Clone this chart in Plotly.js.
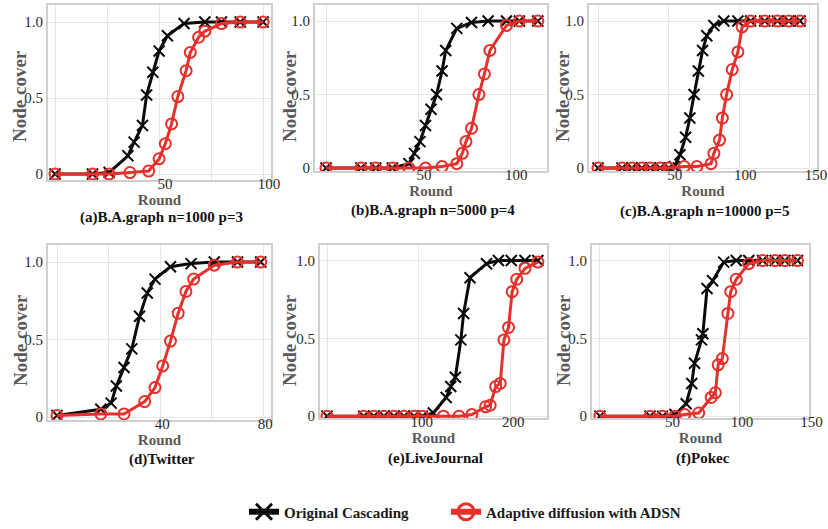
<!DOCTYPE html>
<html>
<head>
<meta charset="utf-8">
<script src="https://cdn.plot.ly/plotly-3.0.1.min.js"></script>
<style>html,body{margin:0;padding:0;background:#fff;}#chart{width:828px;height:529px;}</style>
</head>
<body>
<div id="chart"></div>
<script>
// ---------- DATA ----------
const seriesNames = ["Original Cascading", "Adaptive diffusion with ADSN"];
const captions = ["(a)B.A.graph n=1000 p=3", "(b)B.A.graph n=5000 p=4", "(c)B.A.graph n=10000 p=5",
                  "(d)Twitter", "(e)LiveJournal", "(f)Pokec"];
const xTitle = "Round";
const yTitle = "Node cover";

const roundsA_orig = [0, 18, 26, 35, 38, 42, 44, 47, 50, 54, 62, 72, 80, 89, 100];
const coverA_orig  = [0, 0, 0.01, 0.12, 0.21, 0.32, 0.52, 0.67, 0.81, 0.91, 0.99, 1, 1, 1, 1];
const roundsA_adsn = [0, 18, 26, 36, 45, 50, 53, 56, 59, 63, 65, 69, 72, 80, 89, 100];
const coverA_adsn  = [0, 0, 0, 0.01, 0.02, 0.1, 0.2, 0.33, 0.51, 0.68, 0.8, 0.9, 0.94, 0.99, 1, 1];

const roundsB_orig = [0, 19, 27, 36, 45, 48, 51, 54, 57, 60, 63, 65, 71, 79, 88, 98, 105, 115];
const coverB_orig  = [0, 0, 0, 0, 0.03, 0.1, 0.18, 0.29, 0.4, 0.5, 0.66, 0.8, 0.95, 0.99, 1, 1, 1, 1];
const roundsB_adsn = [0, 19, 27, 36, 45, 54, 63, 71, 74, 76, 79, 83, 86, 89, 98, 105, 115];
const coverB_adsn  = [0, 0, 0, 0, 0, 0, 0.01, 0.03, 0.1, 0.18, 0.27, 0.5, 0.64, 0.8, 0.97, 1, 1];

const roundsC_orig = [0, 17, 24, 31, 37, 44, 50, 54, 58, 62, 65, 68, 71, 74, 77, 82, 89, 99, 108, 118, 127, 135, 143];
const coverC_orig  = [0, 0, 0, 0, 0, 0, 0, 0.01, 0.09, 0.21, 0.34, 0.5, 0.66, 0.8, 0.9, 0.97, 1, 1, 1, 1, 1, 1, 1];
const roundsC_adsn = [0, 17, 24, 31, 37, 44, 50, 61, 70, 80, 82, 86, 88, 91, 95, 99, 102, 108, 118, 127, 135, 143];
const coverC_adsn  = [0, 0, 0, 0, 0, 0, 0, 0.01, 0.01, 0.03, 0.1, 0.19, 0.34, 0.5, 0.67, 0.79, 0.96, 1, 1, 1, 1, 1];

const roundsD_orig = [0, 17, 21, 23, 26, 29, 32, 35, 38, 44, 52, 61, 70, 79];
const coverD_orig  = [0.01, 0.05, 0.09, 0.2, 0.32, 0.44, 0.65, 0.8, 0.89, 0.97, 0.99, 1, 1, 1];
const roundsD_adsn = [0, 17, 26, 34, 38, 41, 44, 47, 50, 53, 61, 70, 79];
const coverD_adsn  = [0.01, 0.02, 0.02, 0.1, 0.19, 0.33, 0.49, 0.67, 0.81, 0.89, 0.98, 1, 1];

const roundsE_orig = [0, 40, 51, 62, 73, 84, 95, 104, 116, 130, 135, 140, 146, 149, 156, 174, 187, 201, 216, 230];
const coverE_orig  = [0, 0, 0, 0, 0, 0, 0, 0, 0.02, 0.12, 0.19, 0.25, 0.49, 0.66, 0.89, 0.98, 1, 1, 1, 1];
const roundsE_adsn = [0, 40, 51, 62, 73, 84, 95, 104, 127, 144, 158, 173, 178, 184, 189, 193, 198, 202, 207, 216, 230];
const coverE_adsn  = [0, 0, 0, 0, 0, 0, 0, 0, 0, 0, 0.01, 0.06, 0.07, 0.19, 0.21, 0.49, 0.57, 0.8, 0.88, 0.95, 0.99];

const roundsF_orig = [0, 36, 45, 54, 62, 66, 68, 73, 74, 77, 81, 89, 98, 107, 117, 126, 133, 142];
const coverF_orig  = [0, 0, 0, 0.01, 0.08, 0.21, 0.34, 0.49, 0.53, 0.82, 0.87, 0.99, 1, 1, 1, 1, 1, 1];
const roundsF_adsn = [0, 36, 45, 54, 61, 71, 80, 83, 85, 88, 92, 94, 98, 107, 117, 126, 133, 142];
const coverF_adsn  = [0, 0, 0, 0, 0.01, 0.02, 0.12, 0.15, 0.33, 0.37, 0.66, 0.8, 0.88, 0.98, 1, 1, 1, 1];

const xTickVals = [[0, 25, 50, 75, 100], [0, 50, 100], [0, 50, 100, 150], [0, 20, 40, 60, 80], [0, 100, 200], [0, 50, 100, 150]];
const xTickText = [["", "", "50", "", "100"], ["", "50", "100"], ["", "50", "100", "150"], ["", "", "40", "", "80"], ["", "100", "200"], ["", "50", "100", "150"]];
const yTickVals = [0, 0.5, 1];
const yTickText = ["0", "0.5", "1.0"];

// ---------- STYLE / LAYOUT ----------
const W = 828, H = 529;
const boxes = [[48, 271, 5, 180], [315, 547, 5, 171], [589, 817, 5, 171],
               [48, 271, 245, 420], [320, 547, 245, 418], [592, 809, 245, 418]];
const xRanges = [[-3.4, 103.8], [-6, 120], [-6.4, 155], [-3.5, 83], [-7.7, 240], [-5.7, 150.3]];
const yRanges = [[-0.039, 1.112], [-0.02, 1.109], [-0.02, 1.109], [-0.019, 1.11], [-0.012, 1.10], [-0.012, 1.10]];
const capY = [218, 210, 211, 459, 458, 458];
const yTitlePos = [[20, 96], [290, 96], [563, 96], [20, 340], [289, 340], [563, 340]];
const xShift = [6, 6, 6, 2, 3, 3];

const origX = [roundsA_orig, roundsB_orig, roundsC_orig, roundsD_orig, roundsE_orig, roundsF_orig];
const origY = [coverA_orig, coverB_orig, coverC_orig, coverD_orig, coverE_orig, coverF_orig];
const adsnX = [roundsA_adsn, roundsB_adsn, roundsC_adsn, roundsD_adsn, roundsE_adsn, roundsF_adsn];
const adsnY = [coverA_adsn, coverB_adsn, coverC_adsn, coverD_adsn, coverE_adsn, coverF_adsn];

const BLACK = "#0a0a0a", RED = "#e5302b";
const SERIF = "Liberation Serif";

const traces = [];
const legendFont = {family: SERIF, size: 15, color: "#1a1a1a", weight: "bold"};
const layout = {
  width: W, height: H,
  margin: {l: 0, r: 0, t: 0, b: 0},
  paper_bgcolor: "#ffffff", plot_bgcolor: "#ffffff",
  showlegend: true,
  legend: {
    orientation: "h", x: 244 / W, xanchor: "left", y: 1 - 512 / H, yanchor: "middle",
    font: legendFont, bgcolor: "rgba(0,0,0,0)", borderwidth: 0, itemsizing: "trace"
  },
  legend2: {
    orientation: "h", x: 446 / W, xanchor: "left", y: 1 - 512 / H, yanchor: "middle",
    font: legendFont, bgcolor: "rgba(0,0,0,0)", borderwidth: 0, itemsizing: "trace"
  },
  annotations: [],
  font: {family: SERIF}
};

for (let i = 0; i < 6; i++) {
  const s = i === 0 ? "" : String(i + 1);
  const b = boxes[i];
  const ax = {
    domain: [b[0] / W, b[1] / W], anchor: "y" + s,
    range: xRanges[i], tickmode: "array", tickvals: xTickVals[i], ticktext: xTickText[i],
    showgrid: true, gridcolor: "#e6e6e6", gridwidth: 1, zeroline: false,
    showline: true, mirror: true, linecolor: "#cfcfcf", linewidth: 2,
    ticks: "", ticklabelshift: xShift[i], ticklabelstandoff: -11,
    tickfont: {family: SERIF, size: 15, color: "#2a2a2a"},
    title: {text: xTitle, font: {family: SERIF, size: 15, color: "#5a5a5a", weight: "bold"}, standoff: 0},
    fixedrange: true
  };
  const ay = {
    domain: [1 - b[3] / H, 1 - b[2] / H], anchor: "x" + s,
    range: yRanges[i], tickmode: "array", tickvals: yTickVals, ticktext: yTickText,
    showgrid: true, gridcolor: "#e6e6e6", gridwidth: 1, zeroline: false,
    showline: true, mirror: true, linecolor: "#cfcfcf", linewidth: 2,
    ticks: "", ticklabelstandoff: 0,
    tickfont: {family: SERIF, size: 15, color: "#2a2a2a"},
    fixedrange: true
  };
  layout["xaxis" + s] = ax;
  layout["yaxis" + s] = ay;

  traces.push({
    type: "scatter", mode: "lines+markers", x: origX[i], y: origY[i],
    xaxis: "x" + s, yaxis: "y" + s, name: seriesNames[0], showlegend: false,
    line: {color: BLACK, width: 3},
    marker: {symbol: "x-thin", size: 11, line: {color: BLACK, width: 2}, color: BLACK}
  });
  traces.push({
    type: "scatter", mode: "lines+markers", x: adsnX[i], y: adsnY[i],
    xaxis: "x" + s, yaxis: "y" + s, name: seriesNames[1], showlegend: false,
    line: {color: RED, width: 3},
    marker: {symbol: "circle-open", size: 11, line: {color: RED, width: 2}, color: RED}
  });

  // y-axis title (placed as rotated text beside each panel)
  layout.annotations.push({
    text: yTitle, xref: "paper", yref: "paper", textangle: -90,
    x: yTitlePos[i][0] / W, y: 1 - yTitlePos[i][1] / H,
    xanchor: "center", yanchor: "middle", showarrow: false,
    font: {family: SERIF, size: 19, color: "#5a5a5a", weight: "bold"}
  });
  // panel caption
  layout.annotations.push({
    text: captions[i], xref: "paper", yref: "paper",
    x: ((b[0] + b[1]) / 2 + 2) / W, y: 1 - capY[i] / H,
    xanchor: "center", yanchor: "middle", showarrow: false,
    font: {family: SERIF, size: 15, color: "#111", weight: "bold"}
  });
}

// legend entries (no data of their own)
traces.push({
  type: "scatter", mode: "lines+markers", x: [null], y: [null], name: seriesNames[0], legend: "legend",
  line: {color: BLACK, width: 6},
  marker: {symbol: "x-thin", size: 16, line: {color: BLACK, width: 3}, color: BLACK}
});
traces.push({
  type: "scatter", mode: "lines+markers", x: [null], y: [null], name: seriesNames[1], legend: "legend2",
  line: {color: RED, width: 6},
  marker: {symbol: "circle-open", size: 16, line: {color: RED, width: 3}, color: RED}
});

Plotly.newPlot("chart", traces, layout, {staticPlot: true, displayModeBar: false});
</script>
</body>
</html>
